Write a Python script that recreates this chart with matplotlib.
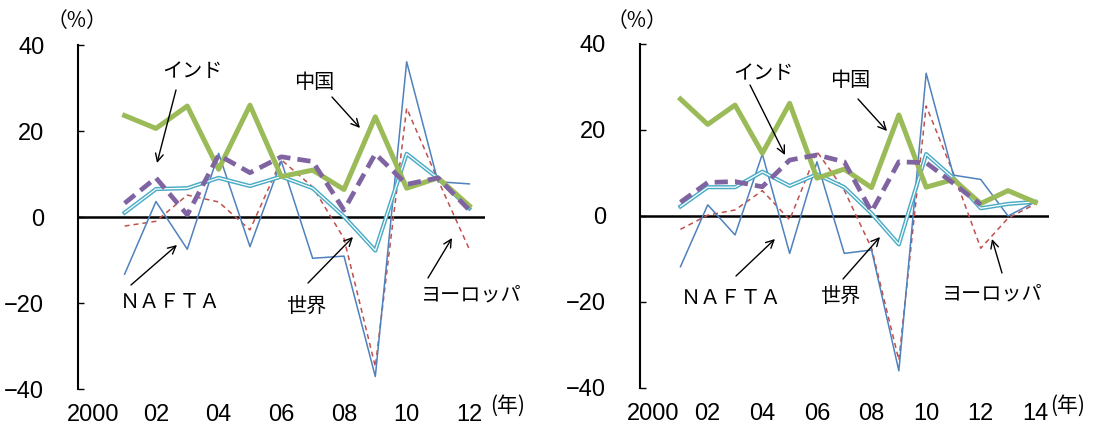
import numpy as np
import matplotlib
matplotlib.use("Agg")
import matplotlib.pyplot as plt
from matplotlib import font_manager as fm
from matplotlib.patches import FancyArrowPatch

# --- data ---
years_a = list(range(2001, 2013))
china_a = [23.6, 20.6, 25.8, 11.1, 26.0, 9.4, 10.9, 6.4, 23.3, 6.7, 9.1, 2.6]
india_a = [3.2, 9.1, 0.5, 14.4, 10.3, 14.0, 12.9, 1.6, 14.7, 7.6, 9.1, 1.6]
world_a = [1.0, 6.5, 6.7, 9.1, 7.2, 9.4, 6.7, 0.1, -7.8, 14.7, 9.0, 2.0]
nafta_a = [-13.3, 3.6, -7.5, 14.8, -6.9, 13.0, -9.6, -9.1, -37.1, 36.1, 8.2, 7.7]
europe_a = [-2.1, -1.0, 5.1, 3.5, -3.0, 13.3, 7.0, -5.0, -34.8, 25.3, 8.6, -7.5]

years_b = list(range(2001, 2015))
china_b = [27.2, 21.3, 25.8, 14.6, 26.2, 8.8, 10.9, 6.6, 23.5, 6.7, 8.5, 2.9, 5.9, 3.2]
india_b = [3.2, 7.8, 8.0, 6.8, 13.0, 14.2, 12.6, 1.0, 12.6, 12.4, 7.6, 2.6, np.nan, np.nan]
world_b = [2.2, 6.7, 6.7, 10.3, 7.0, 9.7, 6.7, 0.6, -6.6, 14.4, 8.8, 1.8, 2.8, 3.3]
nafta_b = [-11.8, 2.6, -4.4, 14.4, -8.7, 12.6, -8.7, -7.9, -36.0, 33.2, 9.5, 8.5, 0.0, 3.3]
europe_b = [-3.1, 0.2, 1.4, 5.9, -0.9, 15.0, 6.0, -7.5, -33.5, 25.6, 9.9, -7.5, -0.5, 2.8]

yticks = [-40, -20, 0, 20, 40]
xticks_a = [2000, 2002, 2004, 2006, 2008, 2010, 2012]
xlabels_a = ["2000", "02", "04", "06", "08", "10", "12"]
xticks_b = [2000, 2002, 2004, 2006, 2008, 2010, 2012, 2014]
xlabels_b = ["2000", "02", "04", "06", "08", "10", "12", "14"]

# fonts
names = {f.name for f in fm.fontManager.ttflist}
num_font = "Liberation Sans Narrow" if "Liberation Sans Narrow" in names else "Liberation Sans"
jp = ["Noto Sans CJK JP", "DejaVu Sans"]
plt.rcParams["font.family"] = jp

W, H = 1099, 428
fig = plt.figure(figsize=(W / 100, H / 100), dpi=100)


def px(x, y):
    return (x / W, 1 - y / H)


def panel(rect, years, china, india, world, nafta, europe, xt, xl, xlim):
    ax = fig.add_axes(rect)
    ax.plot(years, europe, color="#C0504D", lw=1.1, dashes=(3.3, 2.6), zorder=2)
    ax.plot(years, nafta, color="#4F81BD", lw=1.1, zorder=3)
    ax.plot(years, world, color="#4BACC6", lw=3.0, zorder=4)
    ax.plot(years, world, color="white", lw=0.9, zorder=4.1)
    ax.plot(years, china, color="#9BBB59", lw=3.6, zorder=5)
    ax.plot(years, india, color="#8064A2", lw=3.4, dashes=(2.8, 1.5), zorder=6)
    ax.axhline(0, color="black", lw=1.8, zorder=1)
    ax.set_xlim(*xlim)
    ax.set_ylim(-40, 40)
    for s in ["top", "right", "bottom"]:
        ax.spines[s].set_visible(False)
    ax.spines["left"].set_linewidth(1.5)
    ax.set_yticks(yticks)
    ax.set_yticklabels(["\u221240", "\u221220", "0", "20", "40"], fontfamily=num_font, fontsize=17)
    ax.tick_params(axis="y", direction="in", length=4, width=1, pad=24)
    ax.set_xticks(xt)
    ax.set_xticklabels(xl, fontfamily=num_font, fontsize=17)
    ax.tick_params(axis="x", length=0, pad=11)
    return ax


ax1 = panel([77.6 / W, 1 - 389 / H, 407.4 / W, 344 / H], years_a, china_a, india_a,
            world_a, nafta_a, europe_a, xticks_a, xlabels_a, (1999.5, 2012.5))
ax2 = panel([639.5 / W, 1 - 388 / H, 409.5 / W, 344 / H], years_b, china_b, india_b,
            world_b, nafta_b, europe_b, xticks_b, xlabels_b, (1999.5, 2014.5))

# units
fig.text(*px(77, 21), "（%）", fontsize=15, ha="center", va="center")
fig.text(*px(637, 21), "（%）", fontsize=15, ha="center", va="center")
fig.text(*px(508, 406), "(年)", fontsize=15, ha="center", va="center")
fig.text(*px(1068, 406), "(年)", fontsize=15, ha="center", va="center")

# labels with arrows: (text, text pos, arrow start, arrow end)
notes = [
    ("インド", (192, 71), (176, 90), (157, 163)),
    ("中国", (314, 82), (332, 97), (360, 128)),
    ("ＮＡＦＴＡ", (170, 303), (131, 285), (177, 245)),
    ("世界", (306, 306), (308, 283), (353, 237)),
    ("ヨーロッパ", (471, 295), (428, 278), (452, 238)),
    ("インド", (763, 74), (750, 85), (785, 155)),
    ("中国", (850, 81), (858, 99), (887, 131)),
    ("ＮＡＦＴＡ", (731, 298), (736, 276), (775, 239)),
    ("世界", (840, 296), (843, 279), (880, 237)),
    ("ヨーロッパ", (992, 294), (1002, 273), (992, 239)),
]
for txt, tp, a0, a1 in notes:
    fig.text(*px(*tp), txt, fontsize=14.5, ha="center", va="center")
    arr = FancyArrowPatch(px(*a0), px(*a1), transform=fig.transFigure,
                          arrowstyle="->", color="black", lw=1.0,
                          mutation_scale=14, shrinkA=0, shrinkB=0)
    fig.add_artist(arr)

fig.savefig("out.png", dpi=100)
